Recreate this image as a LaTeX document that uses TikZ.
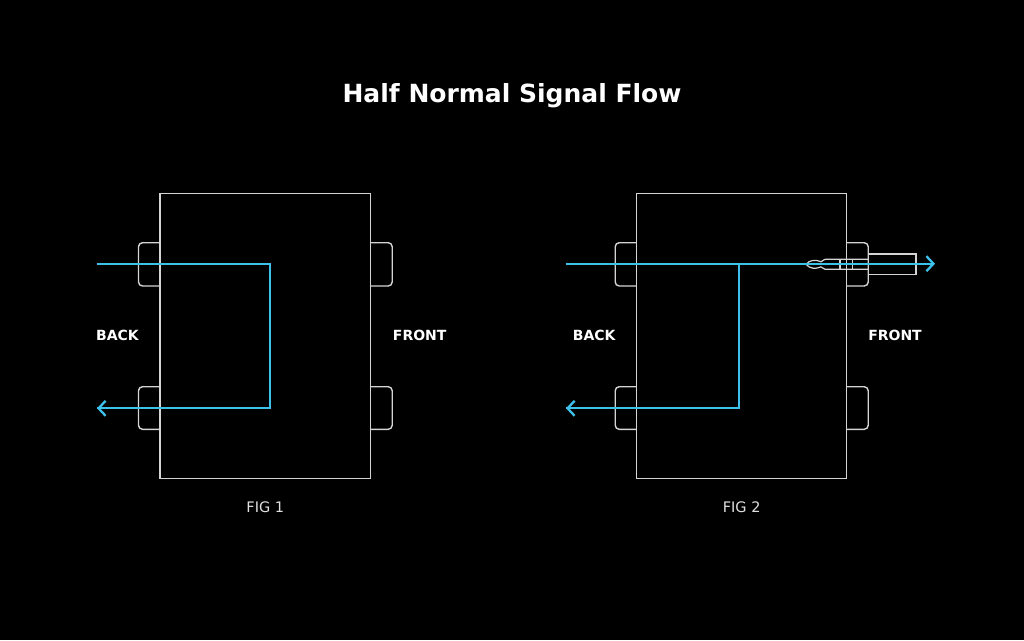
\documentclass[tikz,border=0pt]{standalone}
\usepackage{fontspec}
\setmainfont{DejaVu Sans}
\usetikzlibrary{arrows.meta}
\definecolor{sig}{HTML}{3DC1EA}
\definecolor{wire}{HTML}{D4D4D4}
\tikzset{
  outline/.style={draw=wire, line width=1.4pt},
  signal/.style={draw=sig, line width=2.3pt},
  sigarrow/.style={signal, -{Straight Barb[length=7pt,width=15pt,line width=2.3pt]}},
  side/.style={text=white, font=\fontsize{14}{14}\selectfont\bfseries},
  figlbl/.style={text=white!88!black, font=\fontsize{14.5}{14.5}\selectfont},
}
\newcommand{\jackL}[3]{% x-edge, top, bottom (left jack)
  \draw[outline, rounded corners=4pt] (#1,#2) -- (#1-21.5,#2) -- (#1-21.5,#3) -- (#1,#3);}
\newcommand{\jackR}[3]{%
  \draw[outline, rounded corners=4pt] (#1,#2) -- (#1+21.5,#2) -- (#1+21.5,#3) -- (#1,#3);}
\begin{document}
\begin{tikzpicture}[x=1pt,y=-1pt]
\fill[black] (0,0) rectangle (1024,640);
\useasboundingbox (0,0) rectangle (1024,640);

\node[text=white, font=\fontsize{25}{25}\selectfont\bfseries] (title) at (512,96) {Half Normal Signal Flow};

% ---------- FIG 1 ----------
\draw[outline] (160,193.3) rectangle (370.7,478.3);
\jackL{160}{242.7}{286}
\jackL{160}{386.7}{429.3}
\jackR{370.7}{242.7}{286}
\jackR{370.7}{386.7}{429.3}
\coordinate (a1in) at (96.5,263.7);
\coordinate (a1c1) at (270,263.7);
\coordinate (a1c2) at (270,408.3);
\coordinate (a1out) at (97,408.3);
\draw[signal] (a1in) -- (a1c1) -- (a1c2) -- (a1out);
\draw[sigarrow] (a1c2) -- (a1out);
\node[side] (back1) at (117.5,335) {BACK};
\node[side] (front1) at (419.7,335) {FRONT};
\node[figlbl] (fig1) at (265.3,507) {FIG 1};

% ---------- FIG 2 ----------
\draw[outline] (636.7,193.3) rectangle (846.7,478.3);
\jackL{636.7}{242.7}{286}
\jackL{636.7}{386.7}{429.3}
\jackR{846.7}{242.7}{286}
\jackR{846.7}{386.7}{429.3}
% plug
\draw[outline, line width=1.2pt] (868.2,254) rectangle (916,274.3);
\draw[outline, line width=1.2pt, line join=round] (868.2,259.3) -- (825,259.3)
   .. controls (823,259.3) and (822.5,261.8) .. (821,261.8)
   .. controls (819.5,261.8) and (819,260.4) .. (816,260.4)
   -- (813,260.4)
   .. controls (810,260.4) and (808,262.5) .. (806,264.3)
   .. controls (808,266.1) and (810,268.2) .. (813,268.2)
   -- (816,268.2)
   .. controls (819,268.2) and (819.5,266.8) .. (821,266.8)
   .. controls (822.5,266.8) and (823,269.3) .. (825,269.3)
   -- (868.2,269.3);
\draw[outline, line width=1.2pt] (840,259.3) -- (840,269.3);
\draw[outline, line width=1.2pt] (852.3,259.3) -- (852.3,269.3);
\coordinate (a2in) at (565.7,263.7);
\coordinate (a2j) at (739.3,263.7);
\coordinate (a2out) at (935,263.7);
\coordinate (a2c) at (739.3,408.3);
\coordinate (a2back) at (566,408.3);
\draw[sigarrow] (a2in) -- (a2out);
\draw[signal] (a2j) -- (a2c) -- (a2back);
\draw[sigarrow] (a2c) -- (a2back);
\node[side] (back2) at (594.2,335) {BACK};
\node[side] (front2) at (895,335) {FRONT};
\node[figlbl] (fig2) at (741.7,507) {FIG 2};
\end{tikzpicture}
\end{document}
